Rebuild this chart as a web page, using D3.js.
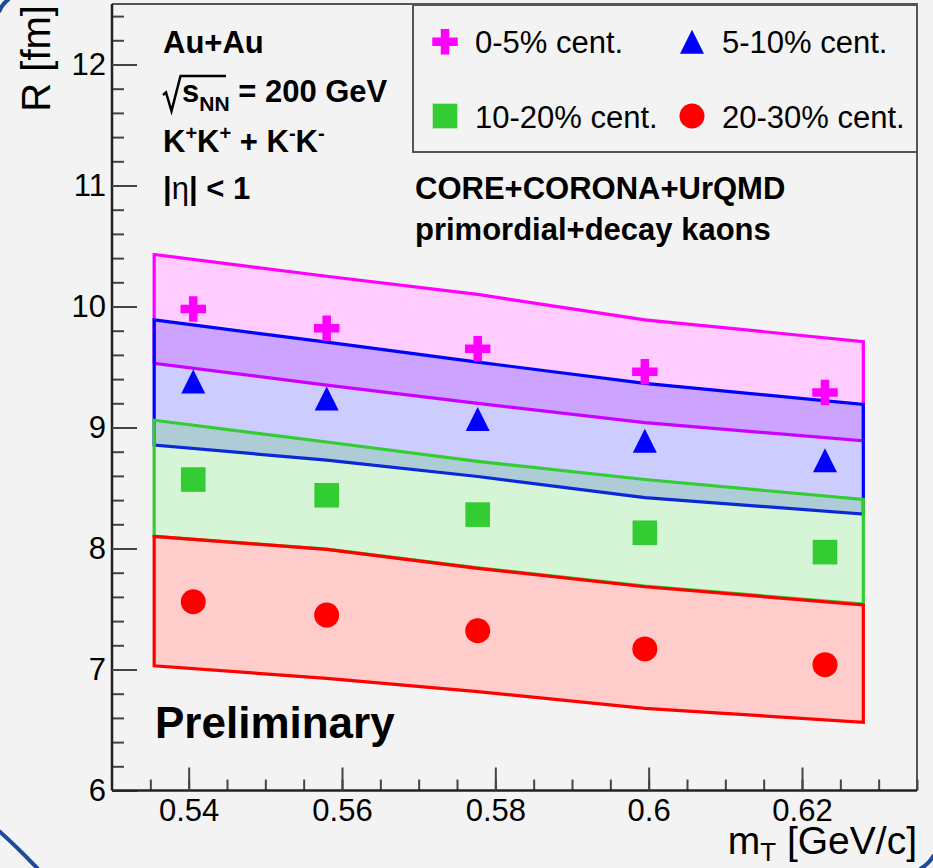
<!DOCTYPE html>
<html>
<head>
<meta charset="utf-8">
<script src="https://cdn.jsdelivr.net/npm/d3@7"></script>
<style>
  html, body { margin: 0; padding: 0; background: #f3f3f3; }
  svg { display: block; }
  text { font-family: "Liberation Sans", Arial, sans-serif; fill: #000; }
</style>
</head>
<body>
<div id="chart"></div>
<script>
'use strict';

// measured points (mT in GeV/c, R in fm)
const mt = [0.5406, 0.5580, 0.5777, 0.5995, 0.6230];
const r_0_5 = [9.98, 9.82, 9.65, 9.46, 9.29];
const r_5_10 = [9.38, 9.24, 9.07, 8.89, 8.73];
const r_10_20 = [8.57, 8.44, 8.28, 8.13, 7.97];
const r_20_30 = [7.56, 7.45, 7.32, 7.17, 7.04];

// model bands (CORE+CORONA+UrQMD)
const band_mt = [0.5355, 0.5580, 0.5777, 0.5995, 0.6280];
const band_0_5_hi = [10.43, 10.25, 10.10, 9.89, 9.71];
const band_0_5_lo = [9.53, 9.35, 9.20, 9.04, 8.89];
const band_5_10_hi = [9.89, 9.705, 9.54, 9.365, 9.19];
const band_5_10_lo = [8.855, 8.73, 8.595, 8.42, 8.285];
const band_10_20_hi = [9.06, 8.88, 8.72, 8.57, 8.405];
const band_10_20_lo = [8.10, 7.995, 7.84, 7.69, 7.54];
const band_20_30_hi = [8.10, 7.993, 7.836, 7.684, 7.533];
const band_20_30_lo = [7.03, 6.927, 6.817, 6.679, 6.564];

const x_ticks = [0.54, 0.56, 0.58, 0.60, 0.62];
const x_tick_labels = ["0.54", "0.56", "0.58", "0.6", "0.62"];
const y_ticks = [6, 7, 8, 9, 10, 11, 12];
const y_tick_labels = ["6", "7", "8", "9", "10", "11", "12"];

const series = [
  {name: "0-5% cent.",   colour: "#ff00ff", marker: "cross",    r: r_0_5,   hi: band_0_5_hi,   lo: band_0_5_lo},
  {name: "5-10% cent.",  colour: "#0000ff", marker: "triangle", r: r_5_10,  hi: band_5_10_hi,  lo: band_5_10_lo},
  {name: "10-20% cent.", colour: "#33cc33", marker: "square",   r: r_10_20, hi: band_10_20_hi, lo: band_10_20_lo},
  {name: "20-30% cent.", colour: "#ff0000", marker: "circle",   r: r_20_30, hi: band_20_30_hi, lo: band_20_30_lo}
];

const width = 933, height = 868;
const frame = {left: 112, right: 917, top: 4, bottom: 790.5};

const svg = d3.select("#chart").append("svg")
  .attr("width", width)
  .attr("height", height);

svg.append("rect").attr("width", width).attr("height", height).attr("fill", "#f3f3f3");

const x = d3.scaleLinear().domain([0.53, 0.635]).range([frame.left, frame.right]);
const y = d3.scaleLinear().domain([6, 12.5]).range([frame.bottom, frame.top]);

function markerPath(kind)
{
  if (kind === "cross") return d3.symbol().type(d3.symbolCross).size(360)();
  if (kind === "triangle") return "M0,-12L12,12L-12,12Z";
  if (kind === "square") return "M-12.3,-12.3H12.3V12.3H-12.3Z";
  return d3.symbol().type(d3.symbolCircle).size(Math.PI * 12.5 * 12.5)();
}

/* white underlay so the translucent bands look like the ROOT output */
const idx = d3.range(band_mt.length);
svg.append("path")
  .datum(idx)
  .attr("fill", "#ffffff")
  .attr("d", d3.area()
    .x(function(i) { return x(band_mt[i]); })
    .y0(function(i) { return y(band_20_30_lo[i]); })
    .y1(function(i) { return y(band_0_5_hi[i]); }));

/* bands */
series.forEach(function(s) {
  const pts = idx.map(function(i) { return [x(band_mt[i]), y(s.hi[i])]; })
    .concat(idx.slice().reverse().map(function(i) { return [x(band_mt[i]), y(s.lo[i])]; }));
  svg.append("path")
    .attr("d", d3.line()(pts) + "Z")
    .attr("fill", s.colour)
    .attr("fill-opacity", 0.2)
    .attr("stroke", s.colour)
    .attr("stroke-width", 3.2)
    .attr("stroke-linejoin", "miter");
});

/* data markers */
series.forEach(function(s) {
  svg.append("g")
    .selectAll("path")
    .data(s.r)
    .enter().append("path")
    .attr("d", markerPath(s.marker))
    .attr("fill", s.colour)
    .attr("transform", function(d, i) { return "translate(" + x(mt[i]) + "," + y(d) + ")"; });
});

/* frame */
svg.append("path")
  .attr("d", "M" + frame.left + "," + frame.top + "H" + frame.right + "V" + frame.bottom)
  .attr("fill", "none").attr("stroke", "#555").attr("stroke-width", 2);

/* axes */
const axis_font = 31;

const yMinor = svg.append("g")
  .attr("transform", "translate(" + frame.left + ",0)")
  .call(d3.axisLeft(y).tickValues(d3.range(6, 12.45, 0.2)).tickSizeInner(-12).tickSizeOuter(0).tickFormat(""));
yMinor.select(".domain").remove();

const yAxis = svg.append("g")
  .attr("transform", "translate(" + frame.left + ",0)")
  .call(d3.axisLeft(y).tickValues(y_ticks).tickSizeInner(-25).tickSizeOuter(0).tickPadding(6)
    .tickFormat(function(d, i) { return y_tick_labels[i]; }));
yAxis.select(".domain").attr("d", "M0," + frame.top + "V" + frame.bottom);

const xMinor = svg.append("g")
  .attr("transform", "translate(0," + frame.bottom + ")")
  .call(d3.axisBottom(x).tickValues(d3.range(0.535, 0.6351, 0.005)).tickSizeInner(-11).tickSizeOuter(0).tickFormat(""));
xMinor.select(".domain").remove();

const xAxis = svg.append("g")
  .attr("transform", "translate(0," + frame.bottom + ")")
  .call(d3.axisBottom(x).tickValues(x_ticks).tickSizeInner(-23).tickSizeOuter(0).tickPadding(8)
    .tickFormat(function(d, i) { return x_tick_labels[i]; }));
xAxis.select(".domain").attr("d", "M" + frame.left + ",0H" + frame.right);

svg.selectAll(".tick line").attr("stroke", "#444").attr("stroke-width", 2);
svg.selectAll(".domain").attr("stroke", "#222").attr("stroke-width", 2.5);
svg.selectAll(".tick text")
  .attr("font-family", "Liberation Sans, Arial, sans-serif")
  .attr("font-size", axis_font)
  .attr("fill", "#000");

/* axis titles */
const xt = svg.append("text")
  .attr("x", frame.right).attr("y", 854)
  .attr("text-anchor", "end")
  .attr("font-size", 39);
xt.append("tspan").text("m");
xt.append("tspan").attr("font-size", 26).attr("dy", 7).text("T");
xt.append("tspan").attr("dy", -7).text(" [GeV/c]");

svg.append("text")
  .attr("transform", "translate(50," + (frame.top + 1) + ") rotate(-90)")
  .attr("text-anchor", "end")
  .attr("font-size", 40)
  .text("R [fm]");

/* legend */
const legend = {x0: 413, y0: 5, x1: frame.right, y1: 152};
svg.append("rect")
  .attr("x", legend.x0).attr("y", legend.y0)
  .attr("width", legend.x1 - legend.x0).attr("height", legend.y1 - legend.y0)
  .attr("fill", "none").attr("stroke", "#555").attr("stroke-width", 2);

const legend_pos = [[445, 41.7], [692, 41.7], [445, 116], [692, 116]];
series.forEach(function(s, i) {
  const p = legend_pos[i];
  svg.append("path")
    .attr("d", markerPath(s.marker))
    .attr("fill", s.colour)
    .attr("transform", "translate(" + p[0] + "," + p[1] + ")");
  svg.append("text")
    .attr("x", p[0] + 30).attr("y", p[1] + 11.5)
    .attr("font-size", 31)
    .text(s.name);
});

/* annotations */
const bold = {"font-size": 31, "font-weight": "bold"};
function label(xp, yp)
{
  const t = svg.append("text").attr("x", xp).attr("y", yp);
  Object.keys(bold).forEach(function(k) { t.attr(k, bold[k]); });
  return t;
}

label(163, 52.7).text("Au+Au");

svg.append("path")
  .attr("d", "M163,95L166,92.5L171.5,111L180.5,76H226")
  .attr("fill", "none").attr("stroke", "#000").attr("stroke-width", 2.5);
const sq = label(182, 101.7);
sq.append("tspan").text("s");
sq.append("tspan").attr("font-size", 21).attr("dy", 9).text("NN");
sq.append("tspan").attr("dy", -9).text(" = 200 GeV");

const kk = label(163, 151.7);
kk.append("tspan").text("K");
kk.append("tspan").attr("font-size", 20).attr("dy", -12).text("+");
kk.append("tspan").attr("dy", 12).text("K");
kk.append("tspan").attr("font-size", 20).attr("dy", -12).text("+");
kk.append("tspan").attr("dy", 12).text(" + K");
kk.append("tspan").attr("font-size", 20).attr("dy", -12).text("-");
kk.append("tspan").attr("dy", 12).text("K");
kk.append("tspan").attr("font-size", 20).attr("dy", -12).text("-");

const eta = label(163, 199);
eta.append("tspan").text("|");
eta.append("tspan").attr("font-weight", "normal").text("η");
eta.append("tspan").text("| < 1");

label(415, 199).text("CORE+CORONA+UrQMD");
label(415, 240).text("primordial+decay kaons");

svg.append("text")
  .attr("x", 155).attr("y", 738)
  .attr("font-family", "Roboto, sans-serif")
  .attr("font-weight", "bold")
  .attr("font-size", 44)
  .text("Preliminary");

/* slide border corners */
svg.append("g")
  .attr("fill", "none").attr("stroke", "#1c4a9c").attr("stroke-width", 4)
  .selectAll("path")
  .data(["M-1,12Q2,4 9,-1", "M-1,831Q15.5,845.5 38,869", "M920,869Q929,864 934,855"])
  .enter().append("path")
  .attr("d", function(d) { return d; });
</script>
</body>
</html>
